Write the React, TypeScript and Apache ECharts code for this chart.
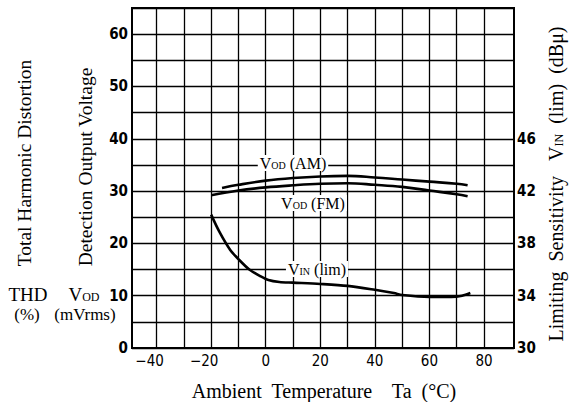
import React, { useEffect, useRef } from "react";
import * as echarts from "echarts";

// Temperature grid / labels (°C)
const xGridValues = [-40, -30, -20, -10, 0, 10, 20, 30, 40, 50, 60, 70, 80];
const xLabelValues = [-40, -20, 0, 20, 40, 60, 80];

// V_OD (AM) in mVrms
const amTemps = [-16, -10, 0, 10, 20, 30, 40, 50, 60, 70, 74];
const amValues = [30.6, 31.2, 32.0, 32.5, 32.8, 32.9, 32.6, 32.2, 31.8, 31.4, 31.1];

// V_OD (FM) in mVrms
const fmTemps = [-20, -10, 0, 10, 20, 30, 40, 50, 60, 70, 74];
const fmValues = [29.2, 30.1, 30.7, 31.1, 31.4, 31.5, 31.2, 30.8, 30.1, 29.4, 29.0];

// V_IN (lim) in dBμ
const vinTemps = [-20, -17, -13, -10, -6, -2, 1, 5, 10, 20, 30, 40, 47, 50, 60, 68, 72, 75];
const vinValues = [40.2, 38.9, 37.5, 36.8, 36.0, 35.5, 35.2, 35.05, 35.0, 34.9, 34.75, 34.45, 34.2, 34.05, 33.9, 33.9, 34.0, 34.2];

const SERIF = "'Liberation Serif', 'Times New Roman', serif";
const NUM = "'Liberation Sans Narrow', 'DejaVu Sans Condensed', 'Liberation Sans', sans-serif";

const pairs = (xs: number[], ys: number[]) => xs.map((x, i) => [x, ys[i]]);

export default function App() {
  const ref = useRef<HTMLDivElement>(null);
  useEffect(() => {
    if (!ref.current) return;
    const chart = echarts.init(ref.current, null, { renderer: "svg" });
    const lineStyle = { color: "#000", width: 2.6 };
    const subRich = (size: number) => ({
      v: { fontFamily: SERIF, fontSize: size, color: "#000" },
      s: { fontFamily: SERIF, fontSize: Math.round(size * 0.62), color: "#000", padding: [Math.round(size * 0.3), 0, 0, 0] },
      n: { fontFamily: SERIF, fontSize: size, color: "#000" },
    });
    const center = { align: "center", verticalAlign: "middle", textAlign: "center", textVerticalAlign: "middle" };
    const option: any = {
      animation: false,
      backgroundColor: "#fff",
      grid: {
        left: 132,
        top: 8,
        right: 58,
        bottom: 54,
        show: true,
        borderColor: "#000",
        borderWidth: 2,
        backgroundColor: "transparent",
      },
      xAxis: {
        type: "value",
        min: -49,
        max: 91,
        axisLine: { show: false },
        axisTick: { show: false, customValues: xLabelValues },
        splitLine: { show: false },
        axisLabel: {
          customValues: xLabelValues,
          margin: 5,
          color: "#000",
          fontFamily: NUM,
          fontSize: 15,
          formatter: (v: number) => (v < 0 ? `{neg|\u2212${-v}}` : `{pos|${v}}`),
          rich: {
            neg: { fontFamily: NUM, fontSize: 15, color: "#000", padding: [0, 14, 0, 0] },
            pos: { fontFamily: NUM, fontSize: 15, color: "#000" },
          },
        },
      },
      yAxis: [
        {
          type: "value",
          min: 0,
          max: 65,
          interval: 5,
          axisLine: { show: false },
          axisTick: { show: false },
          splitLine: { show: true, lineStyle: { color: "#000", width: 1.3 } },
          axisLabel: {
            margin: 4,
            color: "#000",
            fontFamily: NUM,
            fontWeight: "bold",
            fontSize: 15,
            formatter: (v: number) => (v % 10 === 0 && v <= 60 ? String(v) : ""),
          },
        },
        {
          type: "value",
          position: "right",
          min: 30,
          max: 56,
          interval: 4,
          axisLine: { show: false },
          axisTick: { show: false },
          splitLine: { show: false },
          axisLabel: {
            margin: 3,
            color: "#000",
            fontFamily: NUM,
            fontWeight: "bold",
            fontSize: 15,
            formatter: (v: number) => (v <= 46 ? String(v) : ""),
          },
        },
      ],
      series: [
        {
          type: "line",
          name: "gridX",
          data: [],
          markLine: {
            silent: true,
            symbol: "none",
            animation: false,
            label: { show: false },
            lineStyle: { color: "#000", width: 1.3, type: "solid" },
            data: xGridValues.map((v) => ({ xAxis: v })),
          },
        },
        {
          type: "line",
          name: "VOD(AM)",
          data: pairs(amTemps, amValues),
          smooth: 0.4,
          symbol: "none",
          lineStyle,
          z: 5,
        },
        {
          type: "line",
          name: "VOD(FM)",
          data: pairs(fmTemps, fmValues),
          smooth: 0.4,
          symbol: "none",
          lineStyle,
          z: 5,
        },
        {
          type: "line",
          name: "VIN(lim)",
          yAxisIndex: 1,
          data: pairs(vinTemps, vinValues),
          smooth: 0.3,
          symbol: "none",
          lineStyle,
          z: 5,
        },
      ],
      graphic: [
        {
          type: "text",
          x: 24,
          y: 163,
          rotation: Math.PI / 2,
          style: { text: "Total Harmonic Distortion", font: `19.5px ${SERIF}`, fill: "#000", ...center },
        },
        {
          type: "text",
          x: 85,
          y: 167,
          rotation: Math.PI / 2,
          style: { text: "Detection Output Voltage", font: `19.5px ${SERIF}`, fill: "#000", ...center },
        },
        {
          type: "text",
          x: 28,
          y: 294,
          style: { text: "THD", font: `19px ${SERIF}`, fill: "#000", ...center },
        },
        {
          type: "text",
          x: 84,
          y: 294,
          style: { text: "{v|V}{s|OD}", rich: subRich(19), ...center },
        },
        {
          type: "text",
          x: 27,
          y: 314,
          style: { text: "(%)", font: `17px ${SERIF}`, fill: "#000", ...center },
        },
        {
          type: "text",
          x: 85,
          y: 314,
          style: { text: "(mVrms)", font: `17px ${SERIF}`, fill: "#000", ...center },
        },
        {
          type: "text",
          x: 324,
          y: 391,
          style: { text: "Ambient  Temperature    Ta  (°C)", font: `20px ${SERIF}`, fill: "#000", ...center },
        },
        {
          type: "text",
          x: 556,
          y: 184,
          rotation: Math.PI / 2,
          style: {
            text: "{n|Limiting  Sensitivity   }{v|V}{s|IN}{n|  (lim)  (dBμ)}",
            rich: subRich(20),
            ...center,
          },
        },
        {
          type: "text",
          x: 293,
          y: 163,
          z: 10,
          style: { text: "{v|V}{s|OD}{n| (AM)}", rich: subRich(16), backgroundColor: "#fff", padding: [0, 2], ...center },
        },
        {
          type: "text",
          x: 313,
          y: 203,
          z: 10,
          style: { text: "{v|V}{s|OD}{n| (FM)}", rich: subRich(16), backgroundColor: "#fff", padding: [0, 2], ...center },
        },
        {
          type: "text",
          x: 317,
          y: 269,
          z: 10,
          style: { text: "{v|V}{s|IN}{n| (lim)}", rich: subRich(16), backgroundColor: "#fff", padding: [0, 2], ...center },
        },
      ],
    };
    chart.setOption(option);
    return () => chart.dispose();
  }, []);
  return <div ref={ref} style={{ position: "fixed", left: 0, top: 0, width: 572, height: 402 }} />;
}
